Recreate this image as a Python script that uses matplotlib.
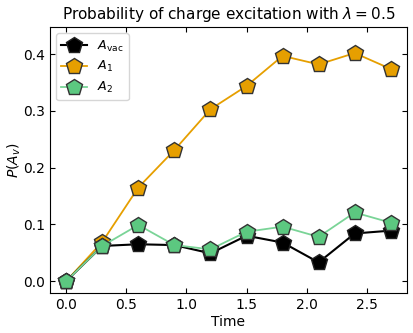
import matplotlib
matplotlib.use('Agg')
import matplotlib.pyplot as plt
import numpy as np

# simulation times and measured probabilities
time = [0.0, 0.3, 0.6, 0.9, 1.2, 1.5, 1.8, 2.1, 2.4, 2.7]
p_vac = [0.0, 0.062, 0.065, 0.0635, 0.049, 0.080, 0.068, 0.033, 0.084, 0.089]
p_1 = [0.0, 0.069, 0.165, 0.231, 0.303, 0.344, 0.397, 0.382, 0.402, 0.374]
p_2 = [0.0, 0.062, 0.099, 0.0635, 0.056, 0.087, 0.096, 0.078, 0.121, 0.103]
err_vac = [0.0, 0.002, 0.002, 0.002, 0.002, 0.003, 0.003, 0.003, 0.003, 0.003]
err_1 = [0.0, 0.004, 0.007, 0.009, 0.010, 0.012, 0.013, 0.013, 0.013, 0.013]
err_2 = [0.0, 0.002, 0.003, 0.003, 0.003, 0.003, 0.004, 0.004, 0.004, 0.004]

fig = plt.figure(figsize=(4.13, 3.33), dpi=100)
ax = fig.add_axes([0.121, 0.12, 0.8645, 0.799])

ax.errorbar(time, p_vac, yerr=err_vac, c='black', marker='p', ms=12,
            mec='#222222', mfc='black', lw=1.5, label=r'$A_{\mathrm{vac}}$', zorder=3)
ax.errorbar(time, p_1, yerr=err_1, c='#E69F00', marker='p', ms=12,
            mec='#333333', mfc='#E69F00', lw=1.3, label=r'$A_1$', zorder=2)
ax.errorbar(time, p_2, yerr=err_2, c='#7ad497', marker='p', ms=12,
            mec='#333333', mfc='#5cc880', lw=1.3, label=r'$A_2$', zorder=4)

ax.set_ylim(-0.021, 0.448)
ax.tick_params(direction='in', top=True, right=True, labelsize=10)
ax.set_xlabel('Time', fontsize=10, labelpad=2)
ax.set_ylabel(r'$P(A_v)$', fontsize=10, labelpad=0)
ax.set_title(r'Probability of charge excitation with $\lambda = 0.5$', fontsize=11)
ax.legend(loc='upper left', fontsize=9.2, labelspacing=0.45)

plt.savefig('out.png', dpi=100)
